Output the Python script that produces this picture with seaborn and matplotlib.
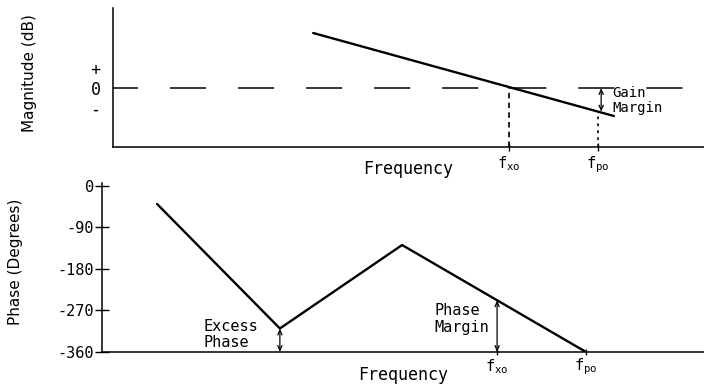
import numpy as np
import matplotlib
matplotlib.use("Agg")
import matplotlib.pyplot as plt
import seaborn as sns

# Frequency axis in log-frequency units (decades, arbitrary origin)
f_xo = 6.63          # gain crossover frequency
f_po = 8.10          # phase crossover frequency

# Open-loop magnitude (dB, arbitrary scale)
mag_freq = [3.39, 8.36]
mag_db = [2.75, -1.40]

# Open-loop phase (degrees), straight-line approximation
phase_freq = [1.01, 3.04, 5.06, 8.10]
phase_deg = [-39, -309, -128, -360]

mag_ticks = [-1, 0, 1]
mag_tick_labels = ["-", "0", "+"]
phase_ticks = [0, -90, -180, -270, -360]
phase_tick_labels = ["0", "-90", "-180", "-270", "-360"]
freq_ticks = [f_xo, f_po]
freq_tick_labels = [r"f$_{xo}$", r"f$_{po}$"]

sns.set_style("white")
plt.rcParams["font.family"] = ["DejaVu Sans Mono"]
plt.rcParams["mathtext.default"] = "regular"
plt.rcParams["lines.scale_dashes"] = False
plt.rcParams["text.color"] = "black"
plt.rcParams["axes.labelcolor"] = "black"

W, H = 704, 385
fig = plt.figure(figsize=(W / 100, H / 100), dpi=100)


def axes_px(left, top, right, bottom):
    return fig.add_axes([left / W, 1 - bottom / H, (right - left) / W, (bottom - top) / H])


ax_mag = axes_px(113, 8, 704, 147)
ax_ph = axes_px(102, 183, 704, 352)

for ax in (ax_mag, ax_ph):
    sns.despine(ax=ax)
    for side in ("left", "bottom"):
        ax.spines[side].set_linewidth(1.1)
        ax.spines[side].set_color("black")
    ax.tick_params(left=True, bottom=True, colors="black")

arrow_style = dict(arrowstyle="<->,head_length=0.35,head_width=0.15",
                   lw=0.9, color="black", shrinkA=0, shrinkB=0)
label_font = ["DejaVu Sans"]

# ---------------- magnitude plot ----------------
ax_mag.set_xlim(0.08, 9.85)
ax_mag.set_ylim(-2.95, 4.0)
y0 = ax_mag.get_ylim()[0]

sns.lineplot(x=[0.08, 9.62], y=[0, 0], ax=ax_mag, color="black", lw=1.1,
             linestyle=(8, (26, 23)), estimator=None)
sns.lineplot(x=mag_freq, y=mag_db, ax=ax_mag, color="black", lw=1.7, estimator=None)

mag_po = np.interp(f_po, mag_freq, mag_db)
ax_mag.plot([f_xo, f_xo], [y0, 0], color="black", lw=1.2, linestyle=(0, (4, 3)))
ax_mag.plot([f_po, f_po], [y0, mag_po], color="black", lw=1.2, linestyle=(0, (2, 3)))
ax_mag.annotate("", xy=(f_po + 0.05, mag_po), xytext=(f_po + 0.05, 0), arrowprops=arrow_style)
ax_mag.text(f_po + 0.23, -0.62, "Gain\nMargin", ha="left", va="center",
            fontsize=10, linespacing=1.05)

ax_mag.set_yticks(mag_ticks, mag_tick_labels)
ax_mag.tick_params(axis="y", length=0, pad=9, labelsize=12)
ax_mag.set_xticks(freq_ticks, freq_tick_labels)
ax_mag.tick_params(axis="x", direction="inout", length=6, width=1, pad=2, labelsize=11)
ax_mag.set_xlabel("Frequency", fontsize=12)
ax_mag.xaxis.set_label_coords(0.5, -0.09)
ax_mag.set_ylabel("Magnitude (dB)", fontsize=11, family=label_font)
ax_mag.yaxis.set_label_coords(-0.129, 0.532)

# ---------------- phase plot ----------------
ax_ph.set_xlim(0.10, 10.05)
ax_ph.set_ylim(-360, 6.5)

sns.lineplot(x=phase_freq, y=phase_deg, ax=ax_ph, color="black", lw=1.7, estimator=None)

phase_xo = np.interp(f_xo, phase_freq, phase_deg)
ax_ph.annotate("", xy=(phase_freq[1], phase_deg[1]), xytext=(phase_freq[1], -360),
               arrowprops=arrow_style)
ax_ph.annotate("", xy=(f_xo, phase_xo), xytext=(f_xo, -360), arrowprops=arrow_style)
ax_ph.text(phase_freq[1] - 0.36, -322, "Excess\nPhase", ha="right", va="center",
           multialignment="left", fontsize=11, linespacing=1.15)
ax_ph.text(f_xo - 0.13, -288, "Phase\nMargin", ha="right", va="center",
           multialignment="left", fontsize=11, linespacing=1.15)

ax_ph.set_yticks(phase_ticks, phase_tick_labels)
ax_ph.tick_params(axis="y", direction="inout", length=10, width=1, pad=1, labelsize=11)
ax_ph.set_xticks(freq_ticks, freq_tick_labels)
ax_ph.tick_params(axis="x", direction="inout", length=5, width=1, pad=1, labelsize=11)
ax_ph.set_xlabel("Frequency", fontsize=12)
ax_ph.xaxis.set_label_coords(0.5, -0.085)
ax_ph.set_ylabel("Phase (Degrees)", fontsize=11, family=label_font)
ax_ph.yaxis.set_label_coords(-0.131, 0.533)

fig.savefig("out.png", dpi=100, facecolor="white")
